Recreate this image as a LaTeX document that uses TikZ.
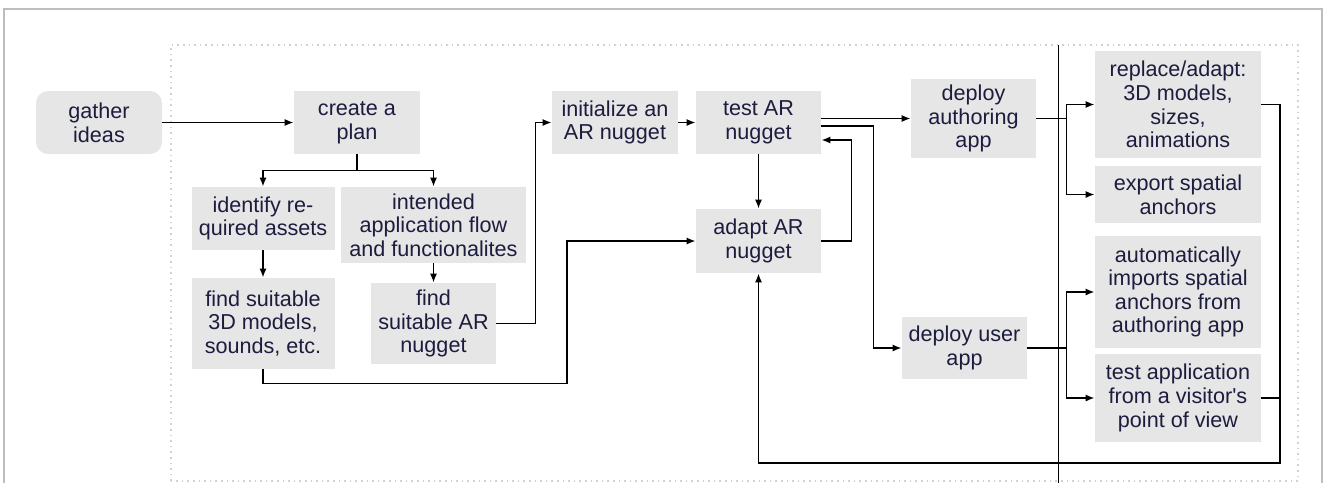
\documentclass[tikz,border=0pt]{standalone}
\usepackage{fontspec}
\setmainfont{Liberation Sans}
\usepackage{tikz}
\usetikzlibrary{arrows.meta, positioning, calc}
\definecolor{flowgray}{HTML}{E6E6E6}
\definecolor{flowtext}{HTML}{1C1C3E}
\definecolor{framegray}{HTML}{BDBDBD}

\begin{document}
\begin{tikzpicture}[
  x=0.5pt, y=-0.5pt,
  every node/.style={font=\fontsize{10.8}{11.8}\selectfont, text=flowtext, align=center, inner sep=1pt},
  task/.style={fill=flowgray, minimum width=#1},
  task/.default=63pt,
  idea/.style={task, rounded corners=6pt},
  link/.style={line width=0.9pt, -{Latex[length=4.5pt, width=3.6pt]}},
  plain/.style={line width=0.9pt}
]
\useasboundingbox (0,0) rectangle (1328,483);

% frames
\draw[framegray, line width=0.6pt] (4,483) -- (4,9) -- (1322,9) -- (1322,483);
\draw[framegray!70, dotted, line width=0.8pt] (171,481) rectangle (1298,45);
\draw[line width=0.5pt] (1058,45) -- (1058,483);

% planning
\node[idea, minimum height=31.5pt] (ideas) at (99,122.5) {gather\\ideas};
\node[task, minimum height=31.5pt] (plan) at (357,122.5) {create a\\plan};
\node[task=71.5pt, minimum height=31.5pt] (assets) at (263,218.5) {identify re-\\quired assets};
\node[task=92.5pt, minimum height=38pt] (flow) at (433.5,225) {intended\\application flow\\and functionalites};
\node[task=71.5pt, minimum height=45.5pt] (models) at (263,323.5) {find suitable\\3D models,\\sounds, etc.};
\node[task=62.5pt, minimum height=40.5pt] (nugget) at (433.5,323.5) {find\\suitable AR\\nugget};

% development
\node[task, minimum height=31.5pt] (init) at (615,122.5) {initialize an\\AR nugget};
\node[task=62.5pt, minimum height=31.5pt] (test) at (758.5,122.5) {test AR\\nugget};
\node[task=62.5pt, minimum height=32pt] (adapt) at (758.5,241) {adapt AR\\nugget};
\node[task=62.5pt, minimum height=39.5pt] (author) at (973.5,118.5) {deploy\\authoring\\app};
\node[task=62.5pt, minimum height=31pt] (user) at (964.5,348) {deploy user\\app};

% on site
\node[task=83pt, minimum height=53.5pt] (replace) at (1178,104.5) {replace/adapt:\\3D models,\\sizes,\\animations};
\node[task=83pt, minimum height=28.5pt] (export) at (1178,194.5) {export spatial\\anchors};
\node[task=83pt, minimum height=56pt] (auto) at (1178,292) {automatically\\imports spatial\\anchors from\\authoring app};
\node[task=83pt, minimum height=44pt] (visitor) at (1178,398) {test application\\from a visitor\textquotesingle s\\point of view};

\coordinate (back) at (1280,463);

\draw[link] (ideas) -- (plan);
\draw[link] (plan.south) -- ++(0,16) -| (assets.north);
\draw[link] (plan.south) -- ++(0,16) -| (flow.north);
\draw[link] (assets) -- (models);
\draw[link] (flow) -- (nugget);
\draw[link] (models.south) -- ++(0,14) -| ([xshift=-64.5pt]adapt.west) -- (adapt.west);
\draw[link] (nugget.east) -- ++(39,0) |- (init.west);
\draw[link] (init) -- (test);
\draw[link] (test) -- (adapt);
\draw[link] (adapt.east) -- ++(30,0) |- ([yshift=-8.75pt]test.east);
\draw[link] (test.east |- author.west) -- (author.west);
\draw[link] ([yshift=-1.75pt]test.east) -- ++(52,0) |- (user.west);
\draw[plain] (author.east) -- ++(30,0) coordinate (ab);
\draw[link] (ab) |- (replace.west);
\draw[link] (ab) |- (export.west);
\draw[plain] (user.east) -- ++(39,0) coordinate (ub);
\draw[link] (ub) |- (auto.west);
\draw[link] (ub) |- (visitor.west);
\draw[link] (replace.east) -| (back) -| (adapt.south);
\draw[plain] (visitor.east) -- (visitor.east -| back);
\end{tikzpicture}
\end{document}
